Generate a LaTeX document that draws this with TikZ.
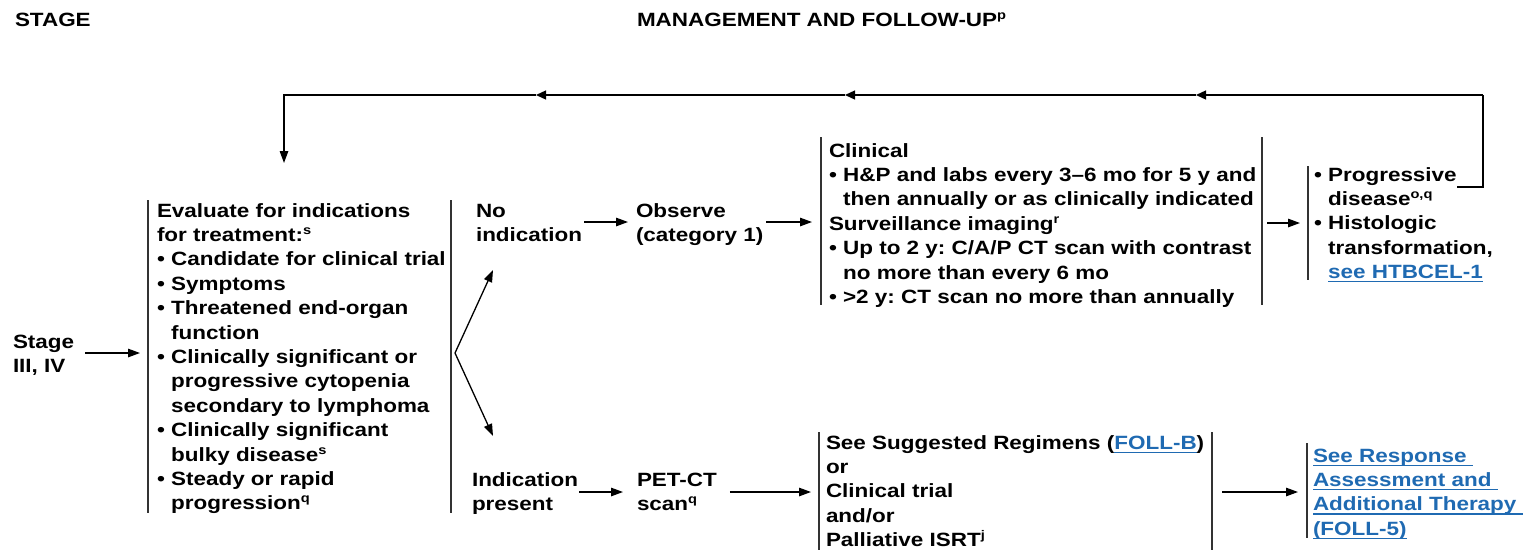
\documentclass[tikz,border=0pt]{standalone}
\usepackage{fontspec}
\usetikzlibrary{arrows.meta}
\newfontfamily\df{Liberation Sans}[FakeStretch=1.17]
\definecolor{linkblue}{RGB}{31,106,178}
\newcommand\sps[1]{\raisebox{7pt}{\fontsize{12.5}{12.5}\selectfont #1}}
\newcommand\fst{\rule{0pt}{18pt}}
\newcommand\ind{\phantom{• }}
\newsavebox\lnkbox
\newcommand\lnk[1]{\sbox\lnkbox{\color{linkblue}#1}{\color{linkblue}\rlap{\rule[-3.8pt]{\wd\lnkbox}{1.2pt}}}\usebox\lnkbox}
\frenchspacing
\begin{document}
\begin{tikzpicture}[x=1pt,y=-1pt,
  txt/.style={font=\df\bfseries\fontsize{19.2}{24.4}\selectfont\frenchspacing, inner sep=0pt, outer sep=0pt, align=left, anchor=north west},
  ln/.style={line width=1.3pt, black},
  bar/.style={line width=1.4pt, black!80},
  arr/.style={ln, -{Triangle[length=12pt,width=8.5pt]}},
  marr/.style={ln, -{Triangle[length=10pt,width=9pt]}}]
\path[use as bounding box] (0,0) rectangle (1524,550);

% headers
\node[txt] (stagehdr) at (15,8) {\fst STAGE};
\node[txt] (mgmt) at (637,8) {\fst MANAGEMENT AND FOLLOW-UP\sps{p}};

% text nodes
\node[txt] (stage) at (13,330) {\fst Stage\\III, IV};
\node[txt] (eval) at (157,199) {\fst Evaluate for indications\\
for treatment:\sps{s}\\
• Candidate for clinical trial\\
• Symptoms\\
• Threatened end-organ\\
\ind function\\
• Clinically significant or\\
\ind progressive cytopenia\\
\ind secondary to lymphoma\\
• Clinically significant\\
\ind bulky disease\sps{s}\\
• Steady or rapid\\
\ind progression\sps{q}};
\node[txt] (noind) at (476,199) {\fst No\\indication};
\node[txt] (observe) at (636,199) {\fst Observe\\(category 1)};
\node[txt] (clin) at (829,139) {\fst Clinical\\
• H\&P and labs every 3–6 mo for 5 y and\\
\ind then annually or as clinically indicated\\
Surveillance imaging\sps{r}\\
• Up to 2 y: C/A/P CT scan with contrast\\
\ind no more than every 6 mo\\
• >2 y: CT scan no more than annually};
\node[txt] (prog) at (1314,163) {\fst • Progressive\\
\ind disease\sps{o,q}\\
• Histologic\\
\ind transformation,\\
\ind \lnk{see HTBCEL-1}};
\node[txt] (indp) at (472,468) {\fst Indication\\present};
\node[txt] (pet) at (637,468) {\fst PET-CT\\scan\sps{q}};
\node[txt] (reg) at (826,431) {\fst See Suggested Regimens (\lnk{FOLL-B})\\
or\\
Clinical trial\\
and/or\\
Palliative ISRT\sps{j}};
\node[txt] (resp) at (1313,444) {\fst \lnk{See Response\ }\\
\lnk{Assessment and\ }\\
\lnk{Additional Therapy\ }\\
\lnk{(FOLL-5)}};

% bars of the text groups
\draw[bar] (148,200) coordinate (evalT) -- (148,513) coordinate (evalB);
\draw[bar] (451,200) -- (451,513);
\draw[bar] (821,137) -- (821,305);
\draw[bar] (1262,137) -- (1262,305);
\draw[bar] (1308,166) -- (1308,280);
\draw[bar] (819,432) -- (819,550);
\draw[bar] (1212,432) -- (1212,550);
\draw[bar] (1307,443) -- (1307,538);

\coordinate (evalL) at (148,353);
\coordinate (fork) at (455,353);
\coordinate (noindIn) at (493,270);
\coordinate (indpIn) at (493,436);
\coordinate (clinL) at (821,222);
\coordinate (clinR) at (1262,223);
\coordinate (progL) at (1308,223);
\coordinate (regL) at (819,492);
\coordinate (regR) at (1212,492);
\coordinate (respL) at (1307,492);

% connectors
\draw[arr] (stage.east |- evalL) ++(11,0) -- ([xshift=-8pt]evalL);
\draw[arr] (fork) -- (noindIn);
\draw[arr] (fork) -- (indpIn);
\draw[arr] (noind.east |- 0,222) ++(2,0) -- ([xshift=-8pt]observe.west |- 0,222);
\draw[arr] (observe.east |- clinL) ++(3,0) -- ([xshift=-9pt]clinL);
\draw[arr] ([xshift=5pt]clinR) -- ([xshift=-8pt]progL);
\draw[arr] (indp.east |- regL) ++(1,0) -- ([xshift=-14pt]pet.west |- regL);
\draw[arr] (pet.east |- regL) ++(13,0) -- ([xshift=-8pt]regL);
\draw[arr] ([xshift=10pt]regR) -- ([xshift=-9pt]respL);

% feedback loop
\coordinate (fbS) at (1457,187);
\coordinate (fbC) at (1483,95);
\coordinate (fbA) at (1196,95);
\coordinate (fbB) at (845,95);
\coordinate (fbD) at (536,95);
\coordinate (fbE) at (284,95);
\coordinate (evalIn) at (284,163);
\draw[ln] (fbS) -- (fbS -| fbC) -- (fbC);
\draw[marr] (fbC) -- (fbA);
\draw[marr] (fbA) -- (fbB);
\draw[marr] (fbB) -- (fbD);
\draw[arr] (fbD) -- (fbE) -- (evalIn);
\end{tikzpicture}
\end{document}
